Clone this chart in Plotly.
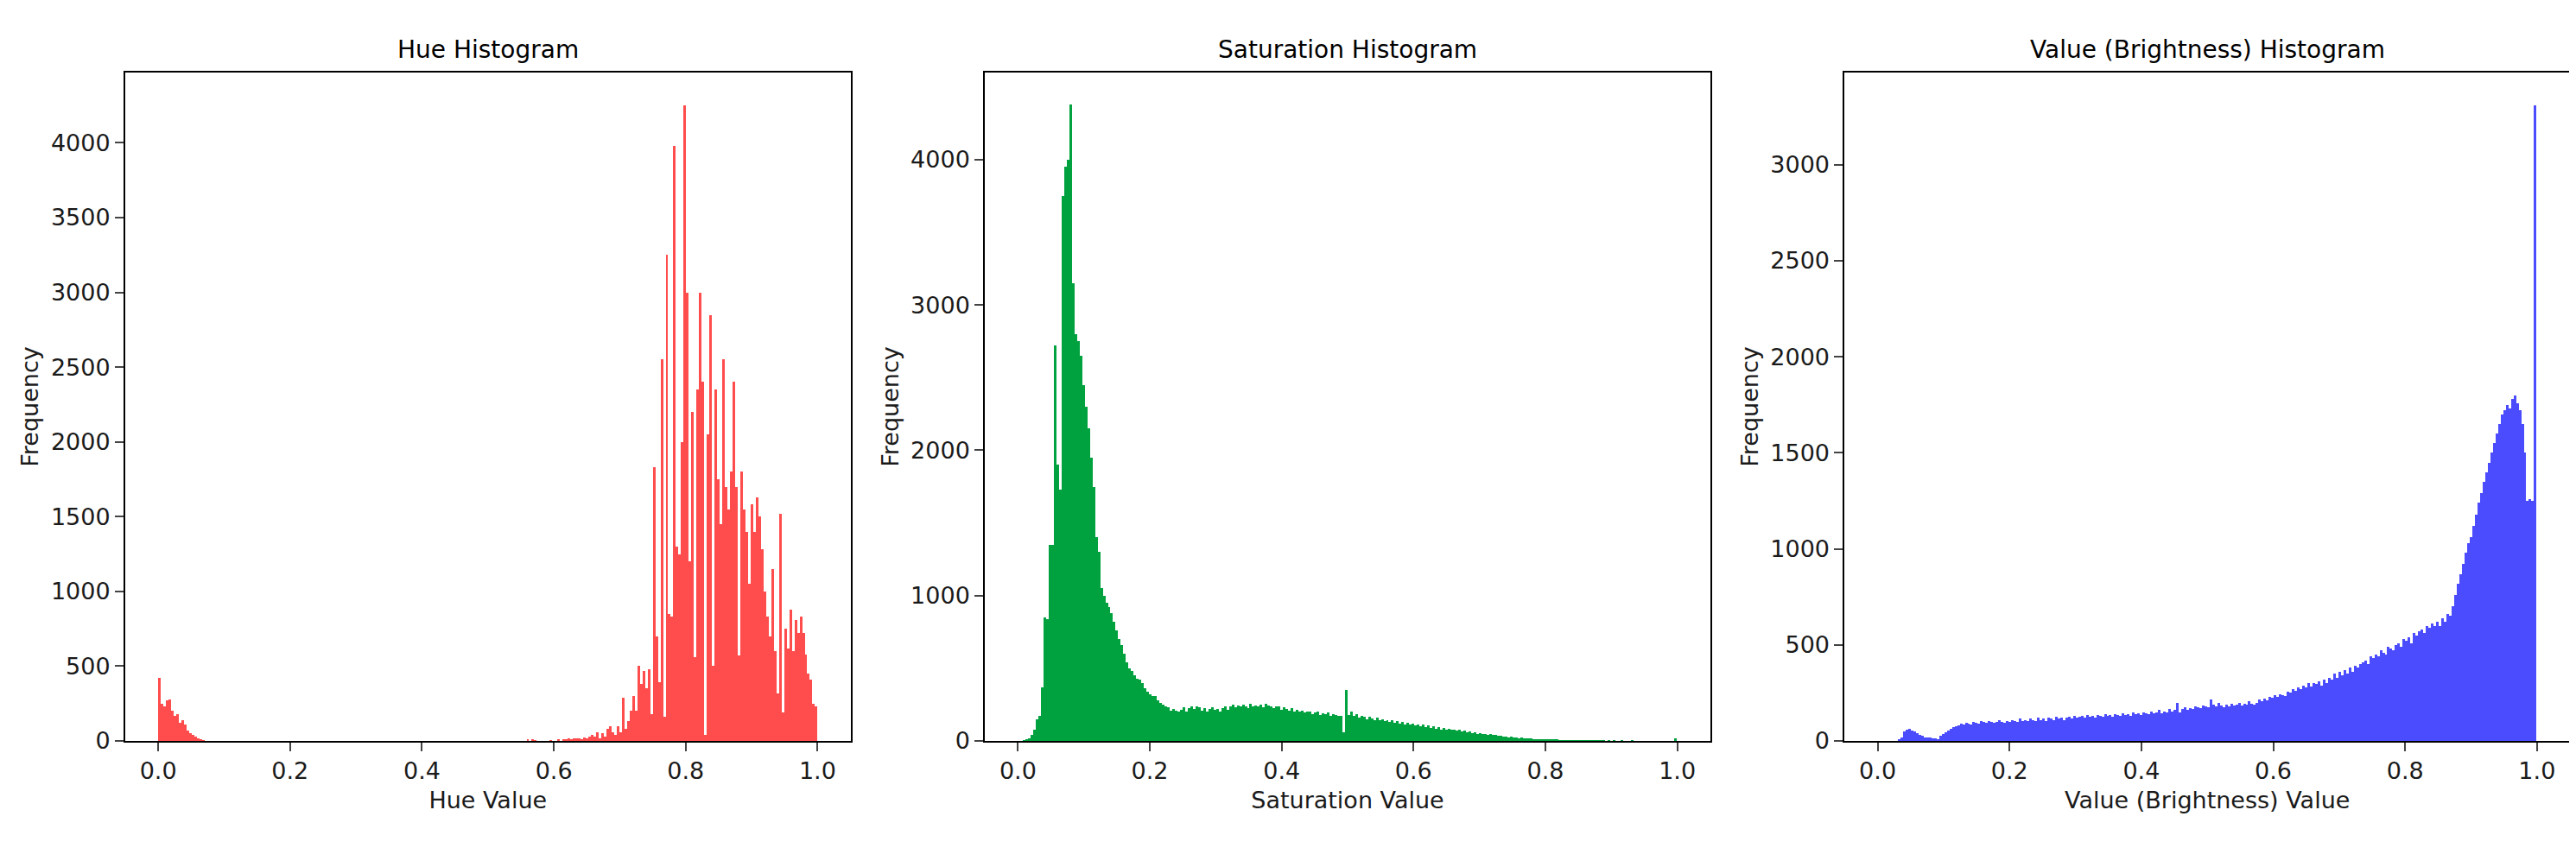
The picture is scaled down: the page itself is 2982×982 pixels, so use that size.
import numpy as np
import plotly.graph_objects as go
from plotly.subplots import make_subplots

# 256-bin histograms over [0, 1], counts
bin_edges = np.linspace(0, 1, 257)

hue_counts = (
    [420, 250, 230, 270, 280, 200, 170, 180, 120, 140, 110, 70, 50, 40, 30, 20, 10, 5]
    + [0] * 125
    + [10, 0, 10, 5, 0, 0, 0, 0, 0, 5, 0]
    + [0, 10, 0, 10, 10, 15, 10, 20, 15, 20, 10, 25, 20, 30, 40, 30, 60, 20, 50, 30, 80, 100]
    + [60, 40, 100, 60, 290, 80, 130, 200, 300, 200, 500, 380, 470, 350]
    + [480, 180, 1830, 700, 390, 2550, 160, 3250, 850, 830, 3980, 1300, 1250, 2000]
    + [4250, 3000, 1200, 2200, 560, 2350, 3000, 2400, 40, 2050,
       2850, 500, 2350, 1750, 1450, 2550, 1700, 1550, 1800, 2400,
       1700, 570, 1800, 1550, 1400, 1050, 1580, 1400, 1630, 1500,
       1280, 1000, 830, 700, 1150, 600, 320, 1520, 190, 750,
       620, 880, 600, 810, 720, 830, 720, 580, 450, 410,
       250, 230]
)

sat_counts = (
    [0, 0, 5, 10]
    + [20, 40, 80, 150, 170, 370, 850, 840, 1350, 1350, 2720, 1900, 1730, 3750, 3950, 4000, 4380]
    + [3150, 2800, 2750, 2650, 2450, 2300, 2150, 1950, 1750, 1400,
       1300, 1050, 1000, 950, 920, 880, 820, 760, 700, 660,
       600, 540, 500, 480, 450, 430, 420, 400, 360, 340,
       320, 310, 310, 280, 260, 250, 240, 230, 210, 220]
    + [210, 200, 215, 230, 205, 225, 240, 220, 235, 230, 210, 225, 205, 220, 230, 215]
    + [220, 205, 225, 240, 215, 235, 250, 230, 245, 235, 250, 240, 225, 255, 235, 245]
    + [240, 250, 230, 255, 245, 240, 225, 240, 235, 215, 230, 220, 210, 225, 205, 215]
    + [200, 210, 195, 200, 205, 185, 195, 200, 180, 190, 185, 195, 175, 185, 180, 175]
    + [170, 60, 350, 180]
    + [200, 170, 185, 160, 175, 165, 150, 165, 155, 145, 160, 140, 150, 135, 145, 130]
    + [140, 125, 135, 120, 130, 115, 125, 110, 120, 105, 115, 100, 110, 95, 105, 90]
    + [100, 85, 95, 80, 90, 75, 85, 75, 80, 70, 75, 65, 70, 60, 65, 55]
    + [60, 50, 55, 45, 50, 40, 45, 40, 40, 35, 35, 30, 30, 25, 28, 22]
    + [25, 20, 22, 18, 20, 15, 16, 12, 14, 10, 12, 10, 10, 8, 8, 6]
    + [6, 5, 5, 4, 4, 3, 3, 3, 2, 2, 2, 2, 1, 1, 1, 1]
    + [1, 1, 1, 0, 1, 0, 1, 0, 0, 1, 0, 0, 0, 1, 0, 0,
       0, 0, 0, 0, 0, 0, 0, 0, 0, 0, 0, 0, 0, 0, 20]
)

val_counts = (
    [0, 0, 0, 0, 0, 0, 0, 0, 10, 20, 50, 60, 65, 55, 50,
     40, 30, 25, 20, 20, 20, 15, 15, 10, 25, 35, 45, 55, 65, 70, 75,
     80, 90, 85, 95, 90, 85, 100, 95, 90, 105]
    + [100, 95, 105, 100, 95, 100, 110, 100, 95, 105, 100, 110, 105, 100, 115, 105]
    + [110, 105, 115, 110, 105, 120, 110, 115, 105, 120, 115, 110, 125, 115, 120, 110]
    + [120, 125, 115, 130, 120, 125, 130, 120, 135, 125, 130, 120, 135, 130, 125, 140]
    + [130, 135, 125, 140, 135, 130, 145, 135, 140, 130, 150, 140, 145, 135, 150, 145]
    + [140, 155, 145, 150, 160, 145, 155, 150, 165, 155, 160, 200, 150, 165, 175, 160]
    + [170, 165, 180, 175, 170, 185, 180, 175, 215, 190, 180, 200, 185, 175, 190, 180]
    + [195, 185, 190, 200, 185, 195, 190, 205, 195, 190, 200, 215, 205, 220, 210, 230]
    + [225, 240, 230, 245, 240, 235, 255, 250, 270, 260, 280, 270, 290, 280, 300, 285]
    + [300, 295, 310, 290, 320, 300, 330, 320, 350, 330, 360, 340, 370, 350, 380, 360]
    + [390, 380, 400, 410, 420, 400, 440, 430, 450, 440, 470, 460, 450, 490, 480, 470]
    + [500, 510, 490, 530, 520, 540, 510, 560, 550, 570, 580, 560, 600, 590, 610, 600]
    + [620, 600, 640, 620, 660, 650, 700, 760, 820, 870, 920, 980, 1030, 1060, 1120, 1180]
    + [1240, 1290, 1350, 1400, 1450, 1500, 1550, 1600, 1650, 1700, 1720, 1750, 1730, 1780, 1800, 1760]
    + [1720, 1650, 1500, 1250, 1260, 1250, 3310]
)

for c in (hue_counts, sat_counts, val_counts):
    assert len(c) == 256, len(c)

panels = [
    ("Hue Histogram", "Hue Value", hue_counts, "rgba(255,0,0,0.7)", 4470, 500),
    ("Saturation Histogram", "Saturation Value", sat_counts, "#00a23f", 4600, 1000),
    ("Value (Brightness) Histogram", "Value (Brightness) Value", val_counts, "rgba(0,0,255,0.7)", 3480, 500),
]

centers = (bin_edges[:-1] + bin_edges[1:]) / 2
font = "DejaVu Sans"

fig = make_subplots(rows=1, cols=3, horizontal_spacing=0.055)
for i, (title, xlabel, counts, color, ymax, dtick) in enumerate(panels, start=1):
    fig.add_trace(go.Bar(x=centers, y=counts, width=1 / 256, marker_color=color,
                         marker_line_width=0, showlegend=False), row=1, col=i)
    fig.update_xaxes(range=[-0.05, 1.05], tickvals=[0, 0.2, 0.4, 0.6, 0.8, 1.0],
                     tickformat=".1f", title_text=xlabel, row=1, col=i)
    fig.update_yaxes(range=[0, ymax], dtick=dtick, title_text="Frequency", row=1, col=i)
    xa = "x domain" if i == 1 else f"x{i} domain"
    ya = "y domain" if i == 1 else f"y{i} domain"
    fig.add_annotation(text=title, xref=xa, yref=ya, x=0.5, y=1.01, yanchor="bottom",
                       showarrow=False, font=dict(size=28, color="black", family=font))

fig.update_xaxes(showline=True, linecolor="black", linewidth=2, mirror=True, ticks="outside",
                 ticklen=10, tickwidth=2, showgrid=False, zeroline=False,
                 tickfont=dict(size=27), title_font=dict(size=27), title_standoff=10)
fig.update_yaxes(showline=True, linecolor="black", linewidth=2, mirror=True, ticks="outside",
                 ticklen=10, tickwidth=2, showgrid=False, zeroline=False,
                 tickfont=dict(size=27), title_font=dict(size=27), title_standoff=6)

fig.update_layout(
    width=2982, height=982,
    margin=dict(l=137, r=15, t=76, b=132),
    paper_bgcolor="white", plot_bgcolor="white",
    bargap=0,
    font=dict(family=font, color="#1a1a1a"),
)

fig.write_html("out.html")
